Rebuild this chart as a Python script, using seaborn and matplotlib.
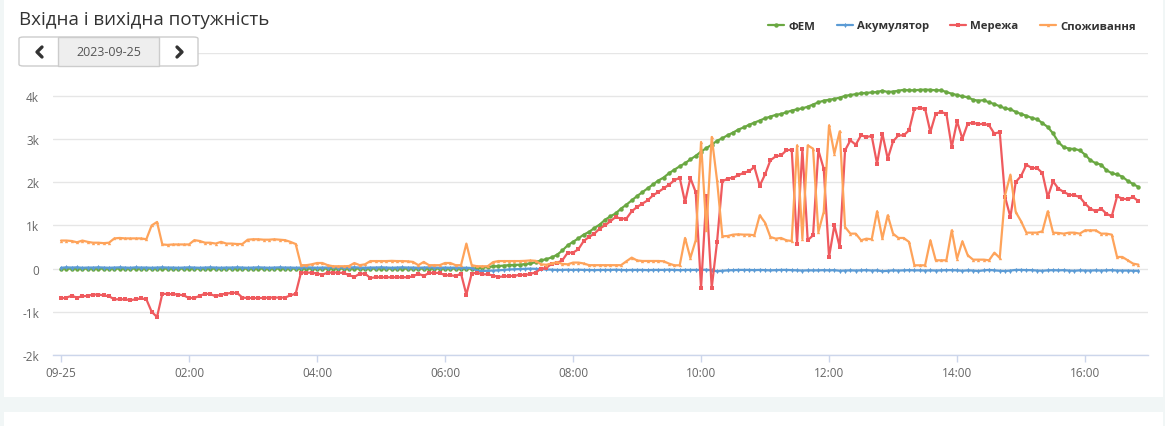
"""
Вхідна і вихідна потужність - daily power chart
"""

import numpy as np
import pandas as pd
import seaborn as sns
import matplotlib.pyplot as plt
import matplotlib.dates as mdates
from matplotlib.patches import FancyBboxPatch, Rectangle
from matplotlib.lines import Line2D

W, H = 1165, 427

start = "2023-09-25 00:00"
date_label = "2023-09-25"
series_names = ["ФЕМ", "Акумулятор", "Мережа", "Споживання"]

# PV, 5 minute steps, one row per hour
pv = [
    0, 0, 0, 0, 0, 0, 0, 0, 0, 0, 0, 0,
    0, 0, 0, 0, 0, 0, 0, 0, 0, 0, 0, 0,
    0, 0, 0, 0, 0, 0, 0, 0, 0, 0, 0, 0,
    0, 0, 0, 0, 0, 0, 0, 0, 0, 0, 0, 0,
    0, 0, 0, 0, 0, 0, 0, 0, 0, 0, 0, 0,
    0, 0, 0, 0, 0, 0, 0, 0, 0, 0, 0, 0,
    0, 0, 0, 0, 0, 0, 10, 20, 40, 50, 60, 70,
    80, 85, 90, 105, 120, 150, 190, 220, 260, 320, 420, 540,
    620, 700, 787, 850, 940, 1020, 1130, 1210, 1280, 1390, 1480, 1580,
    1680, 1770, 1860, 1950, 2040, 2110, 2210, 2290, 2370, 2440, 2530, 2610,
    2710, 2790, 2870, 2960, 3020, 3090, 3150, 3220, 3270, 3330, 3380, 3430,
    3480, 3520, 3560, 3580, 3620, 3660, 3690, 3710, 3750, 3800, 3850, 3890,
    3910, 3930, 3960, 4000, 4020, 4040, 4060, 4070, 4080, 4090, 4120, 4090,
    4100, 4120, 4140, 4130, 4130, 4140, 4145, 4140, 4130, 4130, 4090, 4050,
    4020, 3990, 3970, 3910, 3890, 3900, 3850, 3810, 3760, 3710, 3690, 3630,
    3580, 3540, 3490, 3460, 3370, 3280, 3130, 2930, 2810, 2780, 2770, 2740,
    2640, 2510, 2440, 2410, 2280, 2210, 2180, 2130, 2030, 1960, 1890,
]

battery = [
    20, 30, 25, 30, 20, 25, 25, 30, 25, 20, 25, 30,
    25, 20, 30, 25, 25, 20, 25, 30, 25, 25, 20, 25,
    30, 25, 20, 25, 30, 25, 20, 25, 25, 30, 25, 20,
    25, 30, 25, 20, 25, 30, 25, 25, 20, 25, 30, 25,
    20, 25, 25, 30, 25, 20, 25, 30, 25, 20, 25, 25,
    30, 25, 20, 25, 30, 25, 25, 20, 25, 30, 25, 20,
    25, 20, 25, 20, 20, 15, -50, -55, -50, -45, -40, -30,
    -20, -15, -10, -5, 0, -5, -10, -20, -25, -30, -30, -25,
    -30, -25, -30, -30, -35, -30, -30, -30, -25, -30, -35, -30,
    -30, -30, -35, -30, -30, -30, -25, -30, -35, -30, -30, -30,
    -30, -25, -40, -60, -50, -40, -35, -30, -30, -30, -35, -30,
    -35, -40, -35, -30, -30, -35, -40, -45, -40, -40, -40, -35,
    -40, -35, -50, -45, -40, -45, -40, -35, -45, -40, -60, -50,
    -40, -45, -40, -35, -40, -40, -45, -40, -45, -40, -35, -35,
    -40, -50, -40, -45, -55, -40, -30, -40, -50, -55, -45, -30,
    -30, -35, -35, -45, -50, -40, -35, -40, -35, -45, -50, -40,
    -45, -45, -40, -45, -40, -35, -45, -45, -45, -50, -50,
]

grid = [
    -690, -670, -630, -670, -640, -630, -600, -600, -620, -640, -710, -710,
    -710, -730, -710, -690, -710, -1000, -1120, -580, -590, -590, -600, -620,
    -680, -680, -630, -580, -590, -640, -600, -580, -560, -560, -670, -680,
    -680, -680, -680, -670, -670, -670, -670, -620, -580, -90, -93, -93,
    -116, -139, -93, -93, -93, -100, -150, -193, -116, -116, -216, -200,
    -200, -200, -200, -200, -200, -200, -180, -116, -170, -100, -100, -100,
    -154, -154, -170, -116, -600, -116, -93, -131, -131, -160, -193, -180,
    -170, -170, -140, -150, -120, -90, 0, 15, 116, 131, 193, 370,
    370, 448, 640, 733, 810, 926, 1003, 1096, 1196, 1157, 1157, 1327,
    1427, 1505, 1582, 1698, 1775, 1860, 1944, 2045, 2107, 1540, 2100, 1770,
    -450, 1690, -445, 617, 2022, 2083, 2107, 2160, 2222, 2255, 2353, 1920,
    2180, 2508, 2600, 2623, 2739, 2755, 579, 2762, 656, 772, 2739, 2315,
    270, 1003, 502, 2739, 2971, 2870, 3086, 3048, 3071, 2430, 3125, 2546,
    2947, 3086, 3086, 3202, 3704, 3719, 3704, 3164, 3588, 3627, 3588, 2816,
    3411, 3009, 3357, 3380, 3341, 3357, 3318, 3125, 3164, 1659, 1196, 2006,
    2145, 2407, 2330, 2330, 2214, 1659, 2022, 1852, 1775, 1713, 1698, 1659,
    1505, 1389, 1327, 1389, 1273, 1211, 1674, 1620, 1605, 1659, 1559,
]

consumption = [
    650, 650, 640, 610, 650, 620, 600, 600, 590, 600, 700, 710,
    700, 700, 700, 700, 680, 1000, 1080, 560, 550, 560, 560, 560,
    560, 660, 640, 600, 600, 580, 620, 580, 580, 570, 570, 670,
    680, 680, 670, 670, 680, 670, 660, 620, 570, 80, 80, 100,
    130, 130, 80, 55, 55, 55, 60, 130, 80, 100, 175, 175,
    175, 175, 180, 175, 175, 170, 155, 80, 155, 80, 80, 80,
    130, 130, 80, 80, 580, 80, 55, 55, 55, 150, 175, 175,
    175, 175, 175, 180, 190, 180, 100, 90, 120, 150, 110, 100,
    140, 140, 120, 80, 80, 80, 80, 80, 80, 80, 170, 255,
    190, 177, 177, 177, 177, 170, 116, 77, 77, 710, 247, 656,
    2932, 887, 3048, 2045, 748, 756, 787, 795, 787, 787, 772, 1235,
    1065, 733, 694, 710, 656, 640, 2855, 694, 2855, 2778, 849, 1312,
    3318, 2662, 3179, 964, 810, 810, 656, 694, 679, 1327, 700, 1235,
    810, 710, 710, 617, 77, 77, 77, 656, 193, 193, 193, 887,
    231, 633, 309, 208, 208, 208, 193, 370, 247, 1698, 2176, 1312,
    1096, 833, 833, 833, 864, 1327, 833, 826, 810, 833, 833, 810,
    887, 887, 887, 810, 810, 787, 270, 270, 193, 116, 93,
]

y_ticks = [-2000, -1000, 0, 1000, 2000, 3000, 4000, 5000]
y_labels = ["-2k", "-1k", "0", "1k", "2k", "3k", "4k", "5k"]
x_ticks = ["2023-09-25 00:00", "2023-09-25 02:00", "2023-09-25 04:00", "2023-09-25 06:00",
           "2023-09-25 08:00", "2023-09-25 10:00", "2023-09-25 12:00", "2023-09-25 14:00",
           "2023-09-25 16:00"]
x_labels = ["09-25", "02:00", "04:00", "06:00", "08:00", "10:00", "12:00", "14:00", "16:00"]

colors = {"ФЕМ": "#6aa842", "Акумулятор": "#5b9bd5", "Мережа": "#ef5a5e", "Споживання": "#fea35a"}
markers = {"ФЕМ": "o", "Акумулятор": "d", "Мережа": "s", "Споживання": "^"}
msizes = {"ФЕМ": 3.2, "Акумулятор": 2.6, "Мережа": 3.2, "Споживання": 2.4}

times = pd.date_range(start, periods=len(pv), freq="5min")
df = pd.DataFrame({"time": times, "ФЕМ": pv, "Акумулятор": battery,
                   "Мережа": grid, "Споживання": consumption})
df = df.melt(id_vars="time", var_name="series", value_name="power")

sns.set_theme(style="white")
plt.rcParams['font.family'] = ['Open Sans', 'DejaVu Sans']


def fx(x):
    return x / W


def fy(y):
    return 1 - y / H


fig = plt.figure(figsize=(W / 100, H / 100), dpi=100)
fig.patch.set_facecolor("#f1f6f6")
# white cards
fig.patches.append(Rectangle((fx(4), fy(398)), fx(1163) - fx(4), 398 / H, transform=fig.transFigure,
                             facecolor="white", edgecolor="none", zorder=-10))
fig.patches.append(Rectangle((fx(4), 0), fx(1163) - fx(4), fy(413), transform=fig.transFigure,
                             facecolor="white", edgecolor="none", zorder=-10))

ax = fig.add_axes([fx(53), fy(356), fx(1148) - fx(53), (356 - 53.7) / H])
ax.set_facecolor("white")

for name in series_names:
    sns.lineplot(data=df[df["series"] == name], x="time", y="power", color=colors[name],
                 marker=markers[name], markersize=msizes[name], markeredgewidth=0,
                 linewidth=1.6, ax=ax, legend=False)

ax.set_ylim(-2000, 5000)
ax.set_xlim(times[0] - pd.Timedelta(minutes=7.5), times[0] + pd.Timedelta(minutes=1019))
ax.set_yticks(y_ticks)
ax.set_yticklabels(y_labels)
ax.set_xticks(mdates.date2num(pd.to_datetime(x_ticks)))
ax.set_xticklabels(x_labels)
ax.set_xlabel("")
ax.set_ylabel("")
ax.yaxis.grid(True, color="#e6e6e6", linewidth=1)
ax.set_axisbelow(True)
for s in ["top", "right", "left"]:
    ax.spines[s].set_visible(False)
ax.spines["bottom"].set_color("#ccd6eb")
ax.spines["bottom"].set_linewidth(1)
ax.tick_params(axis="y", length=0, pad=10, labelsize=8.5, labelcolor="#666666")
ax.tick_params(axis="x", length=5, width=1, color="#ccd6eb", direction="out", pad=3,
               labelsize=8.5, labelcolor="#666666", bottom=True)

# title
fig.text(fx(19), fy(20), "Вхідна і вихідна потужність", fontsize=13.5, color="#333333",
         ha="left", va="center")

# date navigation buttons
fig.patches.append(FancyBboxPatch((fx(19), fy(67)), fx(198) - fx(19), 29 / H,
                                  boxstyle="round,pad=0,rounding_size=0.004",
                                  transform=fig.transFigure, facecolor="white",
                                  edgecolor="#cccccc", linewidth=1, zorder=5))
fig.patches.append(Rectangle((fx(58), fy(67)), fx(159) - fx(58), 29 / H, transform=fig.transFigure,
                             facecolor="#eeeeee", edgecolor="#cccccc", linewidth=1, zorder=6))
fig.text(fx(108.5), fy(53), date_label, fontsize=9, color="#555555", ha="center", va="center",
         zorder=7)
fig.lines.append(Line2D([fx(42), fx(37), fx(42)], [fy(48), fy(53), fy(58)], transform=fig.transFigure,
                        color="#333333", linewidth=2.4, zorder=7))
fig.lines.append(Line2D([fx(177), fx(182), fx(177)], [fy(48), fy(53), fy(58)], transform=fig.transFigure,
                        color="#333333", linewidth=2.4, zorder=7))

# legend
handles = [Line2D([0], [0], color=colors[n], marker=markers[n], markersize=msizes[n],
                  markeredgewidth=0, linewidth=1.6) for n in series_names]
leg = fig.legend(handles, series_names, loc="center right", bbox_to_anchor=(fx(1146), fy(27)),
                 ncol=4, frameon=False, handlelength=1.4, columnspacing=1.9, handletextpad=0.35,
                 prop={"weight": "bold", "size": 8.2})
for t in leg.get_texts():
    t.set_color("#333333")

plt.savefig("out.png", dpi=100, facecolor=fig.get_facecolor())
